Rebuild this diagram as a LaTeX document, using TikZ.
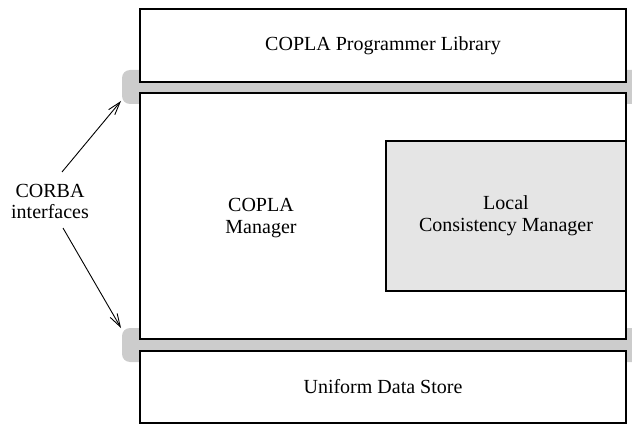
\documentclass[tikz,border=0pt]{standalone}
\usepackage{fontspec}
\setmainfont{Liberation Serif}
\usetikzlibrary{arrows.meta}
\begin{document}
\begin{tikzpicture}[x=1pt,y=-1pt,
  box/.style={draw=black,line width=1.1pt,fill=white,align=center,inner sep=0pt,
    font=\fontsize{20}{22}\selectfont},
  corbabar/.style={fill=black!20,rounded corners=8pt},
  lcm/.style={box,fill=black!10},
  lbl/.style={align=center,inner sep=1pt,font=\fontsize{20}{21}\selectfont},
  arr/.style={line width=0.9pt,-{Straight Barb[length=13pt,width=8pt]}}]
\useasboundingbox (0,0) rectangle (632,425);
\clip (0,0) rectangle (632,425);
% CORBA interface bars
\fill[corbabar] (122,70) rectangle (660,104);
\fill[corbabar] (122,328) rectangle (660,362);
% boxes
\node[box,minimum width=486pt,minimum height=73pt] (lib) at (383,45.5) {COPLA Programmer Library};
\node[box,minimum width=486pt,minimum height=246pt] (mgr) at (383,216) {};
\node[lcm,minimum width=240pt,minimum height=150pt] (lcmbox) at (506,216) {Local\\Consistency Manager};
\node[align=center,inner sep=0pt,font=\fontsize{20}{22}\selectfont] (mgrlbl) at (261,218) {COPLA\\Manager};
\node[box,minimum width=486pt,minimum height=72pt] (uds) at (383,387) {Uniform Data Store};
% label and arrows
\node[lbl] (corba) at (50,201) {CORBA\\interfaces};
\coordinate (s1) at (62,172);
\coordinate (s2) at (63,228);
\coordinate (t1) at (121,101);
\coordinate (t2) at (121,328);
\draw[arr] (s1) -- (t1);
\draw[arr] (s2) -- (t2);
\end{tikzpicture}
\end{document}
